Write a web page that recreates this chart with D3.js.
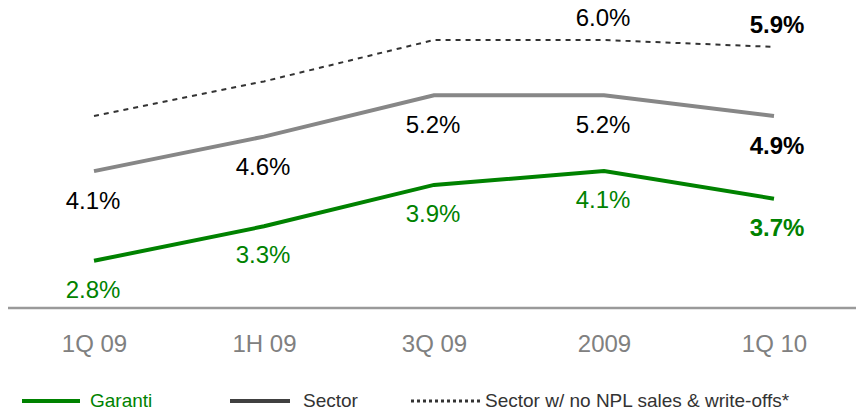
<!DOCTYPE html>
<html>
<head>
<meta charset="utf-8">
<script src="https://cdn.jsdelivr.net/npm/d3@7"></script>
<style>
  body { margin: 0; background: #fff; }
  svg { font-family: Arial, "Liberation Sans", sans-serif; }
</style>
</head>
<body>
<svg id="chart"></svg>
<script>
var periods = ["1Q 09", "1H 09", "3Q 09", "2009", "1Q 10"];
var garanti = [2.8, 3.3, 3.9, 4.1, 3.7];
var sector = [4.1, 4.6, 5.2, 5.2, 4.9];
var sectorNoSales = [4.9, 5.4, 6.0, 6.0, 5.9];
// only the last two points of the dotted series carry a label
var noSalesLabelled = [false, false, false, true, true];

var screen = { width: 856, height: 410 };

var green = "#008200";
var grey = "#878787";

var svg = d3.select("#chart")
  .attr("width", screen.width)
  .attr("height", screen.height);

var xScale = d3.scalePoint()
  .domain(periods)
  .range([94, 774]);

var yScale = d3.scaleLinear()
  .domain([2, 7])
  .range([316, -29]);

// x axis: only the tick labels, the base line runs across the whole width
var xAxis = d3.axisBottom(xScale).tickSize(0).tickPadding(27);
var axisG = svg.append("g")
  .attr("transform", "translate(0,308)")
  .call(xAxis);
axisG.select(".domain").remove();
axisG.selectAll("text")
  .attr("font-size", 24)
  .attr("font-family", "Arial, 'Liberation Sans', sans-serif")
  .attr("fill", "#808080");

svg.append("line")
  .attr("x1", 8).attr("x2", 856)
  .attr("y1", 308).attr("y2", 308)
  .attr("stroke", "#9a9a9a")
  .attr("stroke-width", 2.5);

var lineDrawer = d3.line()
  .x(function(d, i){ return xScale(periods[i]); })
  .y(function(d){ return yScale(d); });

svg.append("path")
  .datum(sectorNoSales)
  .attr("d", lineDrawer)
  .attr("fill", "none")
  .attr("stroke", "#333")
  .attr("stroke-width", 2)
  .attr("stroke-dasharray", "5,5");

svg.append("path")
  .datum(sector)
  .attr("d", lineDrawer)
  .attr("fill", "none")
  .attr("stroke", grey)
  .attr("stroke-width", 4);

svg.append("path")
  .datum(garanti)
  .attr("d", lineDrawer)
  .attr("fill", "none")
  .attr("stroke", green)
  .attr("stroke-width", 4);

var last = periods.length - 1;

// value labels, the latest one in bold
var labelSeries = function(values, color, dy, show) {
  values.forEach(function(v, i){
    if (show && !show[i]) return;
    svg.append("text")
      .text(v.toFixed(1) + "%")
      .attr("x", xScale(periods[i]) + (i === last ? 3 : -1))
      .attr("y", yScale(v) + dy)
      .attr("text-anchor", "middle")
      .attr("font-size", 24)
      .attr("font-weight", i === last ? "bold" : "normal")
      .attr("fill", color);
  });
};

labelSeries(garanti, green, 37);
labelSeries(sector, "#000", 38);
labelSeries(sectorNoSales, "#000", -14, noSalesLabelled);

// legend
var legendItems = [
  { name: "Garanti", color: green, textColor: green, dash: null, x1: 22, x2: 80, tx: 90 },
  { name: "Sector", color: "#404040", textColor: "#333", dash: null, x1: 230, x2: 290, tx: 303 },
  { name: "Sector w/ no NPL sales & write-offs*", color: "#333", textColor: "#333", dash: "3,3", x1: 411, x2: 480, tx: 485 }
];

var legend = svg.append("g").selectAll("g")
  .data(legendItems)
  .enter()
  .append("g");

legend.append("line")
  .attr("x1", function(d){ return d.x1; })
  .attr("x2", function(d){ return d.x2; })
  .attr("y1", 401).attr("y2", 401)
  .attr("stroke", function(d){ return d.color; })
  .attr("stroke-width", function(d){ return d.dash ? 3 : 4; })
  .attr("stroke-dasharray", function(d){ return d.dash; });

legend.append("text")
  .text(function(d){ return d.name; })
  .attr("x", function(d){ return d.tx; })
  .attr("y", 407)
  .attr("font-size", 19)
  .attr("fill", function(d){ return d.textColor; });
</script>
</body>
</html>
